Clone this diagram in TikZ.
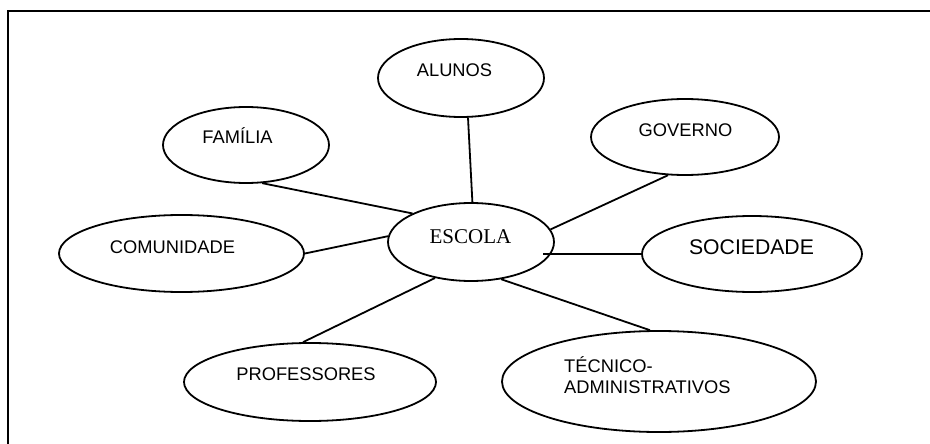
\documentclass[tikz,border=0pt]{standalone}
\usepackage{fontspec}
\setmainfont{Liberation Sans}
\newfontfamily\timesfont{Liberation Serif}
\usetikzlibrary{shapes.geometric}
\begin{document}
\begin{tikzpicture}[x=1pt,y=-1pt,
  oval/.style={draw,ellipse,line width=1.8pt,inner sep=0pt},
  lbl/.style={anchor=base,inner sep=0pt,font=\fontsize{18.3}{20}\selectfont},
  link/.style={line width=1.8pt}]
\useasboundingbox (0,0) rectangle (930,444);
\draw[line width=1.8pt] (930,11) -- (8,11) -- (8,444);
% ellipses
\node[oval,minimum width=166pt,minimum height=78pt] (alunos) at (461,78) {};
\node[oval,minimum width=166pt,minimum height=76pt] (familia) at (246,145) {};
\node[oval,minimum width=188pt,minimum height=76pt] (governo) at (685,137) {};
\node[oval,minimum width=245pt,minimum height=77pt] (comunidade) at (181.5,253.5) {};
\node[oval,minimum width=166pt,minimum height=78pt] (escola) at (471,242) {};
\node[oval,minimum width=220pt,minimum height=76pt] (sociedade) at (752,254) {};
\node[oval,minimum width=252pt,minimum height=78pt] (professores) at (310,382) {};
\node[oval,minimum width=314pt,minimum height=101pt] (tecnico) at (659,381.5) {};
% labels
\node[lbl] (t-alunos) at (454.5,76.5) {ALUNOS};
\node[lbl] (t-familia) at (237.5,143.3) {FAMÍLIA};
\node[lbl] (t-governo) at (685.5,136) {GOVERNO};
\node[lbl] (t-comunidade) at (172.5,253) {COMUNIDADE};
\node[anchor=base,inner sep=0pt,font=\timesfont\fontsize{21}{23}\selectfont] (t-escola) at (470.5,243.3) {ESCOLA};
\node[anchor=base,inner sep=0pt,font=\fontsize{21.2}{23}\selectfont] (t-sociedade) at (751.5,254.5) {SOCIEDADE};
\node[lbl] (t-professores) at (306,380.3) {PROFESSORES};
\node[lbl,anchor=base west] (t-tecnico1) at (564,372.7) {TÉCNICO-};
\node[lbl,anchor=base west] (t-tecnico2) at (564,393) {ADMINISTRATIVOS};
% connectors
\coordinate (socend) at (543,254);
\draw[link] (familia.-67) -- (escola.154.6);
\draw[link] (alunos.-80) -- (escola.88.5);
\draw[link] (governo.-114) -- (escola.9.3);
\draw[link] (comunidade.0) -- (escola.176.6);
\draw[link] (sociedade.west) -- (socend);
\draw[link] (professores.100) -- (escola.-135);
\draw[link] (tecnico.100) -- (escola.-51.5);
\end{tikzpicture}
\end{document}
